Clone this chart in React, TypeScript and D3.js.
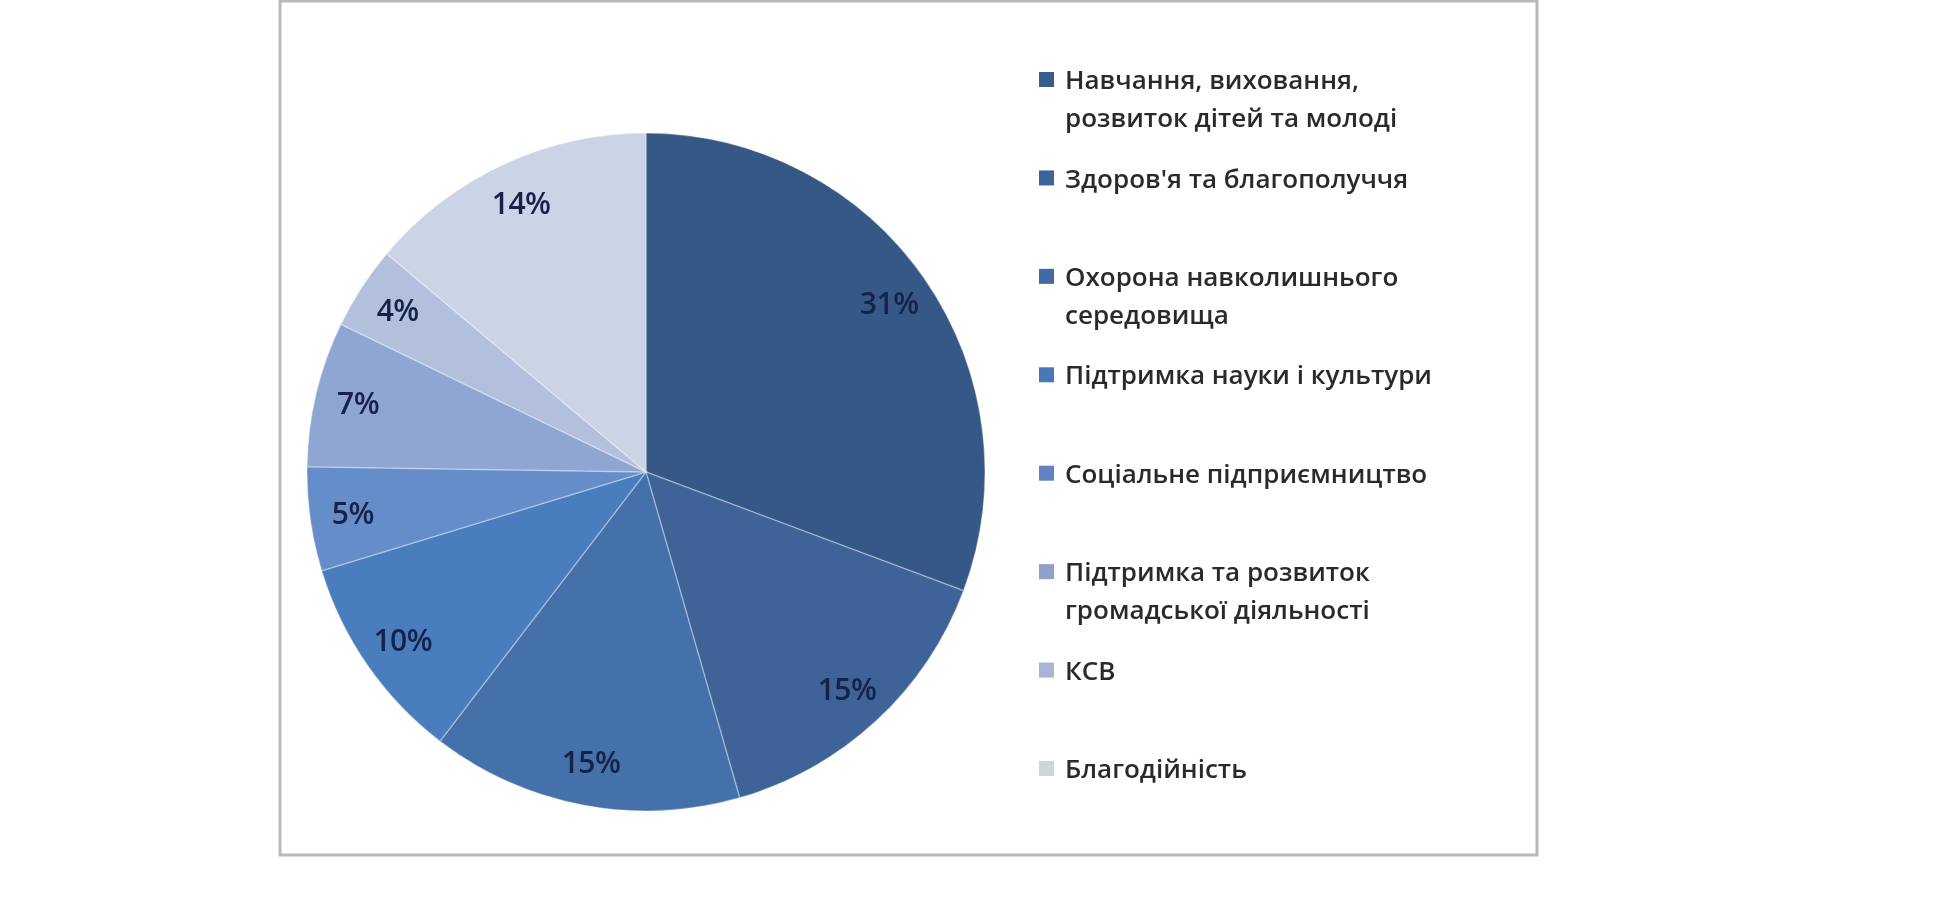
import React from 'react';
import * as d3 from 'd3';

// shares as printed on the slices, clockwise from 12 o'clock
const categories = [
  ['Навчання, виховання,', 'розвиток дітей та молоді'],
  ["Здоров'я та благополуччя"],
  ['Охорона навколишнього', 'середовища'],
  ['Підтримка науки і культури'],
  ['Соціальне підприємництво'],
  ['Підтримка та розвиток', 'громадської діяльності'],
  ['КСВ'],
  ['Благодійність'],
];
const shares = [31, 15, 15, 10, 5, 7, 4, 14];
const sliceColors = ['#365987', '#3c6499', '#4471aa', '#4a7dbd', '#658dca', '#8ea6d1', '#b2bfdd', '#cbd3e6'];
const legendColors = ['#385b8b', '#3d639c', '#4169a6', '#4a78b8', '#6482c2', '#8fa1c9', '#aab5d5', '#d2d4dc'];

const W = 1944;
const H = 924;
const cx = 646;
const cy = 472;
const R = 339;

const App: React.FC = () => {
  const pie = d3.pie<number>().sort(null).value(d => d);
  const arcs = pie(shares);
  const arc = d3.arc<d3.PieArcDatum<number>>().innerRadius(0).outerRadius(R);
  const labelArc = d3.arc<d3.PieArcDatum<number>>().innerRadius(296).outerRadius(296);

  // legend rows: first line of each entry evenly spaced
  const legendY = d3.scaleLinear().domain([0, categories.length - 1]).range([80, 769]);
  const lineH = 38;

  return (
    <svg width={W} height={H} style={{ position: 'absolute', left: 0, top: 0, background: '#fff' }}>
      <defs>
        <filter id="soft" x="-5%" y="-5%" width="110%" height="110%">
          <feGaussianBlur stdDeviation="0.7" />
        </filter>
      </defs>
      <g filter="url(#soft)">
        {/* chart frame */}
        <rect x={280} y={1} width={1257} height={854} fill="#fff" stroke="#b9b9b9" strokeWidth={3} />

        {/* pie */}
        <g transform={`translate(${cx},${cy})`}>
          {arcs.map((a, i) => (
            <path key={i} d={arc(a) || ''} fill={sliceColors[i]} stroke="#ffffff" strokeOpacity={0.3} strokeWidth={1.5} />
          ))}
          {arcs.map((a, i) => {
            const [x, y] = labelArc.centroid(a);
            return (
              <text key={'l' + i} x={x} y={y} dy="0.35em" textAnchor="middle"
                fontFamily="'Open Sans', 'Noto Sans', sans-serif" fontSize={30} fontWeight={600}
                letterSpacing={-0.5} fill="#14244a">
                {shares[i]}%
              </text>
            );
          })}
        </g>

        {/* legend */}
        {categories.map((lines, i) => {
          const y0 = legendY(i);
          return (
            <g key={'lg' + i}>
              <rect x={1039} y={y0 - 8} width={15} height={15} fill={legendColors[i]} />
              {lines.map((t, j) => (
                <text key={j} x={1065} y={y0 + j * lineH} dy="0.35em"
                  fontFamily="'Open Sans', 'Noto Sans', sans-serif" fontSize={26} fontWeight={600}
                  fill="#2b2b2b">
                  {t}
                </text>
              ))}
            </g>
          );
        })}
      </g>
    </svg>
  );
};

export default App;
